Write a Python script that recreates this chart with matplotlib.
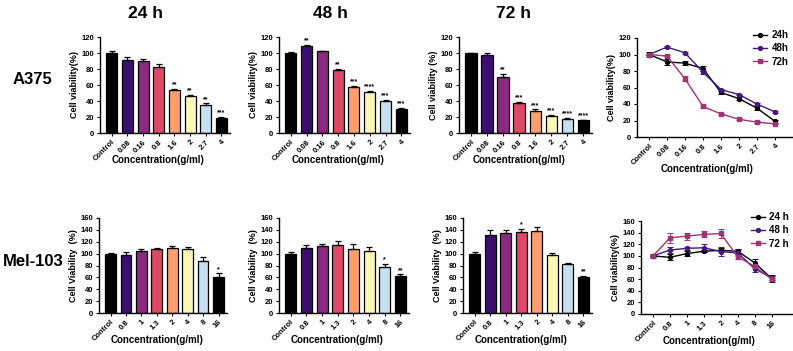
import numpy as np
import matplotlib
matplotlib.use("Agg")
from matplotlib import pyplot as plt
from matplotlib.lines import Line2D

plt.rcParams["font.family"] = ["Liberation Sans", "DejaVu Sans"]
plt.rcParams["font.weight"] = "bold"

# --- data ---
conc_a375 = ["Control", "0.08", "0.16", "0.8", "1.6", "2", "2.7", "4"]
conc_mel = ["Control", "0.8", "1", "1.3", "2", "4", "8", "16"]
bar_colors = ["#000000", "#3b0f70", "#8c2981", "#de4968",
              "#fe9f6d", "#fbf7b5", "#c6e0f0", "#000000"]

a375_24 = [100, 91, 89.5, 83, 54, 46.5, 35, 19]
a375_24_err = [3, 4, 2.5, 3, 1.5, 1.5, 2, 1.5]
a375_24_sig = ["", "", "", "", "**", "**", "**", "***"]

a375_48 = [100, 109, 102, 78.5, 57.5, 51.5, 40, 30.5]
a375_48_err = [0.8, 1.5, 1, 2, 1, 1, 1, 1]
a375_48_sig = ["", "**", "", "**", "***", "****", "***", "***"]

a375_72 = [100, 98, 70.5, 37, 28, 21.5, 18, 16]
a375_72_err = [0.5, 1.5, 3, 1.5, 1.5, 1, 1, 0.5]
a375_72_sig = ["", "", "**", "***", "***", "***", "****", "****"]

mel_24 = [100, 97.5, 104, 108, 109.5, 108, 88, 61]
mel_24_err = [1, 5, 4.5, 2, 3.5, 4, 6, 6]
mel_24_sig = ["", "", "", "", "", "", "", "*"]

mel_48 = [100, 110, 113, 114, 107.5, 105, 78, 62]
mel_48_err = [2.5, 4.5, 2.5, 7, 8, 6, 5, 3]
mel_48_sig = ["", "", "", "", "", "", "*", "**"]

mel_72 = [100, 131, 134, 137, 138.5, 98, 82, 60]
mel_72_err = [3, 9, 6, 5, 7, 3, 2, 2]
mel_72_sig = ["", "", "", "*", "", "", "", "**"]

line_colors = ["#000000", "#45177f", "#a03473"]

W, H = 793, 351
fig = plt.figure(figsize=(W / 100, H / 100), dpi=100)


def px_axes(x0, x1, ytop, ybot):
    return fig.add_axes([x0 / W, 1 - ybot / H, (x1 - x0) / W, (ybot - ytop) / H])


def style_axes(ax, labels, ymax, ylabel, xlim, xlab_y):
    for s in ["top", "right"]:
        ax.spines[s].set_visible(False)
    for s in ["left", "bottom"]:
        ax.spines[s].set_linewidth(1.0)
    ax.set_ylim(0, ymax)
    ax.set_yticks(np.arange(0, ymax + 1, 20))
    ax.set_xlim(*xlim)
    ax.set_xticks(range(len(labels)))
    ax.set_xticklabels(labels, rotation=45, ha="right", rotation_mode="anchor",
                       fontsize=5.5, fontweight="bold")
    ax.tick_params(axis="y", labelsize=5.5, length=2.5, width=0.8, pad=1.5)
    ax.tick_params(axis="x", length=2.5, width=0.8, pad=1.5)
    for t in ax.get_yticklabels():
        t.set_fontweight("bold")
    ax.set_ylabel(ylabel, fontsize=6.5, fontweight="bold", labelpad=2)
    ax.set_xlabel("Concentration(g/ml)", fontsize=7, fontweight="bold", va="center")
    ax.xaxis.set_label_coords(0.45, xlab_y)


def bar_panel(rect, vals, errs, sigs, labels, ymax, ylabel, xlab_y):
    ax = px_axes(*rect)
    x = np.arange(len(vals))
    ax.bar(x, vals, width=0.7, color=bar_colors, edgecolor="black", linewidth=0.9)
    ax.errorbar(x, vals, yerr=[np.zeros(len(errs)), errs], fmt="none",
                ecolor="black", elinewidth=0.9, capsize=2, capthick=0.9)
    for xi, v, e, s in zip(x, vals, errs, sigs):
        if s:
            ax.text(xi, v + e + ymax * 0.005, s, ha="center", va="bottom",
                    fontsize=5, fontweight="bold")
    style_axes(ax, labels, ymax, ylabel, (-0.75, 7.55), xlab_y)
    return ax


def line_panel(rect, series, errs, labels, names, ymax, xlim, leg_xy, xlab_y):
    ax = px_axes(*rect)
    x = np.arange(len(labels))
    markers = ["o", "o", "s"]
    handles = []
    for vals, err, c, m, n in zip(series, errs, line_colors, markers, names):
        ax.errorbar(x, vals, yerr=err, color=c, marker=m, markersize=2.8,
                    linewidth=1.0, elinewidth=0.7, capsize=2, capthick=0.7,
                    ecolor=c)
        handles.append(Line2D([], [], color=c, marker=m, markersize=2.8,
                              linewidth=1.0, label=n))
    style_axes(ax, labels, ymax, "Cell viability(%)", xlim, xlab_y)
    ax.legend(handles=handles, loc="upper left",
              bbox_to_anchor=(leg_xy[0] / W, 1 - leg_xy[1] / H),
              bbox_transform=fig.transFigure, frameon=False, fontsize=7,
              handlelength=1.4, handletextpad=0.5, labelspacing=0.35,
              borderpad=0, borderaxespad=0)
    return ax


# top row: A375
bar_panel((100, 230, 37, 133), a375_24, a375_24_err, a375_24_sig, conc_a375, 120,
          "Cell viability(%)", -0.28)
bar_panel((279, 410, 37, 133), a375_48, a375_48_err, a375_48_sig, conc_a375, 120,
          "Cell viability(%)", -0.28)
bar_panel((459, 592, 37, 133), a375_72, a375_72_err, a375_72_sig, conc_a375, 120,
          "Cell viability (%)", -0.28)
line_panel((637, 792, 38, 137), [a375_24, a375_48, a375_72],
           [a375_24_err, a375_48_err, a375_72_err], conc_a375,
           ["24h", "48h", "72h"], 120, (-0.67, 7.95), (753, 30), -0.32)

# bottom row: Mel-103
bar_panel((99, 227, 218, 313), mel_24, mel_24_err, mel_24_sig, conc_mel, 160,
          "Cell Viability  (%)", -0.285)
bar_panel((279, 409, 218, 313), mel_48, mel_48_err, mel_48_sig, conc_mel, 160,
          "Cell Viability  (%)", -0.285)
bar_panel((463, 592, 218, 313), mel_72, mel_72_err, mel_72_sig, conc_mel, 160,
          "Cell Viability  (%)", -0.285)
line_panel((641, 792, 221, 314), [mel_24, mel_48, mel_72],
           [mel_24_err, mel_48_err, mel_72_err], conc_mel,
           ["24 h", "48 h", "72 h"], 160, (-0.71, 8.2), (751, 212), -0.29)

# column and row titles
for xc, t in [(145, "24 h"), (330, "48 h"), (514, "72 h")]:
    fig.text(xc / W, 1 - 14 / H, t, ha="center", va="center", fontsize=12.5,
             fontweight="bold")
fig.text(32 / W, 1 - 80 / H, "A375", ha="center", va="center", fontsize=12,
         fontweight="bold")
fig.text(33 / W, 1 - 262 / H, "Mel-103", ha="center", va="center", fontsize=12,
         fontweight="bold")

fig.savefig("out.png", dpi=100)
